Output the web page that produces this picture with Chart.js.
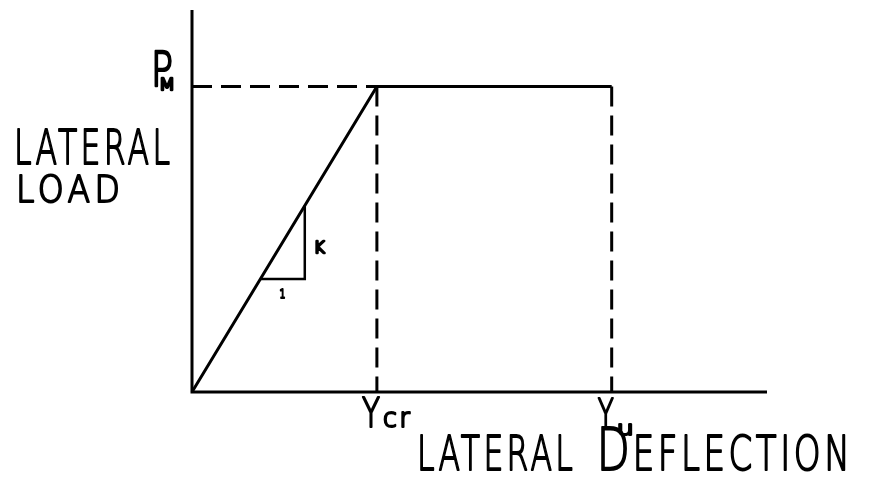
<!DOCTYPE html>
<html>
<head>
<meta charset="utf-8">
<script src="https://cdn.jsdelivr.net/npm/chart.js@4.4.1/dist/chart.umd.min.js"></script>
<style>
    html, body { margin: 0; padding: 0; background: #fff; }
    #wrap { width: 872px; height: 478px; }
</style>
</head>
<body>
<div id="wrap"><canvas id="grafico"></canvas></div>
<script>

// deflexiones (unidades relativas a Ycr)
const yCr = 1.0;
const yU = 2.27;
const xMax = 3.11;

// carga
const pM = 1.0;
const yMax = 1.25;

// triangulo de pendiente K
const triX = [0.37, 0.61];

const curva = [ {x: 0, y: 0}, {x: yCr, y: pM}, {x: yU, y: pM} ];
const ejes = [ {x: 0, y: yMax}, {x: 0, y: 0}, {x: xMax, y: 0} ];
const guiaPm = [ {x: 0, y: pM}, {x: yCr, y: pM} ];
const guiaCr = [ {x: yCr, y: pM}, {x: yCr, y: 0} ];
const guiaU = [ {x: yU, y: pM}, {x: yU, y: 0} ];
const triangulo = [ {x: triX[0], y: triX[0]}, {x: triX[1], y: triX[0]}, {x: triX[1], y: triX[1]} ];

function serie(data, dash, width){
    return {
        data: data,
        borderColor: '#000',
        borderWidth: width,
        borderDash: dash,
        pointRadius: 0,
        fill: false,
        tension: 0,
        clip: false,
        borderJoinStyle: 'miter'
    };
}

// escribe texto ajustado a un ancho, con trazo tipo plumilla
function texto(ctx, t, x, y, size, ancho, espacio, trazo){
    ctx.save();
    ctx.font = '200 ' + size + 'px "DejaVu Sans"';
    ctx.letterSpacing = (espacio || 0) + 'px';
    ctx.textBaseline = 'alphabetic';
    ctx.textAlign = 'left';
    const w = ctx.measureText(t).width - (espacio || 0);
    ctx.translate(x, y);
    const k = ancho ? ancho / w : 1;
    ctx.scale(k, 1);
    ctx.fillStyle = '#000';
    ctx.strokeStyle = '#000';
    ctx.lineJoin = 'round';
    ctx.lineWidth = trazo || 1.9;
    ctx.fillText(t, 0, 0);
    ctx.strokeText(t, 0, 0);
    ctx.restore();
}

const etiquetas = {
    id: 'etiquetas',
    afterDraw(chart){
        const ctx = chart.ctx;
        const sx = chart.scales.x, sy = chart.scales.y;
        const x0 = sx.getPixelForValue(0);
        const yPm = sy.getPixelForValue(pM);
        const y0 = sy.getPixelForValue(0);
        const xCr = sx.getPixelForValue(yCr);
        const xU = sx.getPixelForValue(yU);

        // eje vertical
        texto(ctx, 'P', x0 - 41, yPm, 48, 22, 0, 2.4);
        texto(ctx, 'M', x0 - 33, yPm + 4, 16, 16, 0, 2.4);
        texto(ctx, 'LATERAL', x0 - 178, yPm + 78, 48, 156, 5);
        texto(ctx, 'LOAD', x0 - 176, yPm + 116, 37, 104, 5);

        // pendiente
        const tx = sx.getPixelForValue(triX[1]);
        const ty = sy.getPixelForValue(triX[0]);
        texto(ctx, 'K', tx + 9, ty - 26, 15, 11, 0, 2.4);
        texto(ctx, '1', sx.getPixelForValue((triX[0] + triX[1]) / 2) - 3, ty + 19, 13, 6, 0, 2);

        // eje horizontal
        texto(ctx, 'Y', xCr - 15, y0 + 35, 40, 18, 0, 2.2);
        texto(ctx, 'cr', xCr + 6, y0 + 35, 26, 27, 3, 2.2);
        texto(ctx, 'Y', xU - 14, y0 + 36, 40, 16, 0, 2.2);
        texto(ctx, 'u', xU + 5, y0 + 43, 20, 17, 0, 2.2);
        texto(ctx, 'LATERAL', xCr + 40, y0 + 78, 48, 156, 5);
        texto(ctx, 'D', xU - 15, y0 + 78, 58, 33, 0, 2);
        texto(ctx, 'EFLECTION', xU + 21, y0 + 78, 48, 217, 5);
    }
};

new Chart(document.getElementById('grafico'), {
    type: 'line',
    plugins: [etiquetas],
    data: {
        datasets: [
            serie(ejes, [], 3),
            serie(guiaPm, [20, 9], 3),
            serie(guiaCr, [20, 9], 3),
            serie(guiaU, [20, 9], 3),
            serie(triangulo, [], 2.5),
            serie(curva, [], 3)
        ]
    },
    options: {
        responsive: true,
        maintainAspectRatio: false,
        animation: false,
        layout: {
            padding: { left: 192, right: 105, top: 10, bottom: 86 }
        },
        scales: {
            x: { type: 'linear', min: 0, max: xMax, display: false },
            y: { type: 'linear', min: 0, max: yMax, display: false }
        },
        plugins: {
            legend: { display: false },
            tooltip: { enabled: false }
        }
    }
});

</script>
</body>
</html>
